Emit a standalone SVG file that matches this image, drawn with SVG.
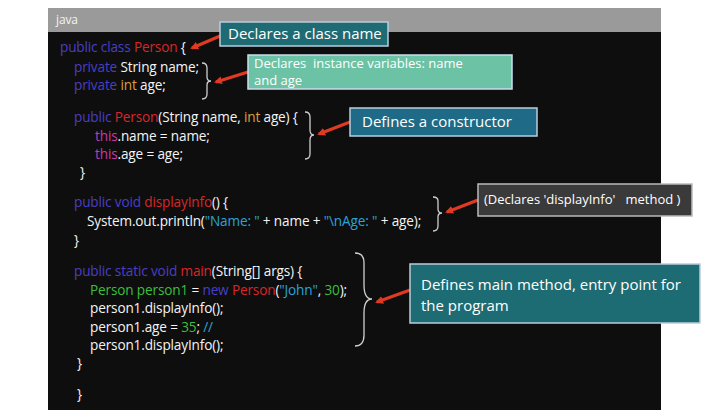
<svg xmlns="http://www.w3.org/2000/svg" width="711" height="418" viewBox="0 0 711 418">
<defs>
<style>
.c{font-family:"Open Sans","Liberation Sans",sans-serif;font-size:13.6px;fill:#f4f4f4;letter-spacing:-0.15px}
.k{fill:#4a3fc4}.r{fill:#d8262b}.o{fill:#d9a040}.m{fill:#c93aa8}.s{fill:#2aa3d6}.g{fill:#3cbf3c}
.lbl{font-family:"Open Sans","Liberation Sans",sans-serif;font-size:14px;fill:#fff}
.br{fill:none;stroke:#cfcfcf;stroke-width:1.3}
.ar{stroke:#e03a22;stroke-width:3;fill:none}
</style>
<marker id="ah" markerWidth="8" markerHeight="8" refX="6" refY="4" orient="auto" markerUnits="userSpaceOnUse"><path d="M0,0 L8,4 L0,8 Z" fill="#e03a22"/></marker>
</defs>
<rect width="711" height="418" fill="#fff"/>
<g id="panel">
<rect x="48" y="8" width="613" height="402" fill="#0e0e0e"/>
<rect x="48" y="8" width="613" height="24" fill="#9a9a9a"/>
<text x="56" y="24" class="c" style="font-size:12px">java</text>
</g>
<g id="code" class="c">
<text x="60" y="52"><tspan class="k">public class </tspan><tspan class="r">Person</tspan> {</text>
<text x="74" y="72"><tspan class="k">private</tspan> String name;</text>
<text x="74" y="90"><tspan class="k">private</tspan> <tspan class="o">int</tspan> age;</text>
<text x="74" y="122"><tspan class="k">public</tspan> <tspan class="r">Person</tspan>(String name, <tspan class="o">int</tspan> age) {</text>
<text x="95" y="141"><tspan class="m">this</tspan>.name = name;</text>
<text x="95" y="159"><tspan class="m">this</tspan>.age = age;</text>
<text x="80" y="177">}</text>
<text x="74" y="207"><tspan class="k">public void</tspan> <tspan class="r">displayInfo</tspan>() {</text>
<text x="87" y="226">System.out.println(<tspan class="s">"Name: "</tspan> + name + <tspan class="s">"\nAge: "</tspan> + age);</text>
<text x="74" y="245">}</text>
<text x="74" y="276"><tspan class="k">public static void</tspan> <tspan class="r">main</tspan>(String[] args) {</text>
<text x="90" y="295"><tspan class="g">Person person1</tspan> = <tspan class="k">new</tspan> <tspan class="r">Person</tspan>(<tspan class="s">"John"</tspan>, <tspan class="g">30</tspan>);</text>
<text x="90" y="313">person1.displayInfo();</text>
<text x="90" y="332">person1.age = <tspan class="g">35</tspan>; <tspan class="s">//</tspan></text>
<text x="90" y="350">person1.displayInfo();</text>
<text x="77" y="368">}</text>
<text x="77" y="399">}</text>
</g>
<g id="braces">
<path class="br" d="M202,63 q5,0 5,5 v9 q0,4 4,4 q-4,0 -4,4 v9 q0,5 -5,5"/>
<path class="br" d="M305,112 q5,0 5,5 v13 q0,5 4,5 q-4,0 -4,5 v14 q0,5 -5,5"/>
<path class="br" d="M433,197 q5,0 5,4 v8 q0,4 4,4 q-4,0 -4,4 v9 q0,5 -5,5"/>
<path class="br" d="M355,253 q9,0 9,10 v22 q0,14 8,14 q-8,0 -8,14 v22 q0,11 -9,11"/>
</g>
<g id="connectors">
<line class="ar" x1="220" y1="36" x2="192" y2="48" marker-end="url(#ah)"/>
<line class="ar" x1="248" y1="72" x2="216" y2="82" marker-end="url(#ah)"/>
<line class="ar" x1="350" y1="122" x2="319" y2="134" marker-end="url(#ah)"/>
<line class="ar" x1="478" y1="200" x2="447" y2="212" marker-end="url(#ah)"/>
<line class="ar" x1="410" y1="290" x2="377" y2="302" marker-end="url(#ah)"/>
</g>
<g id="n1"><rect x="220" y="22" width="168" height="24" fill="#1e6b74" stroke="#bcd" stroke-width="1.5"/><text x="228" y="39" class="lbl" style="font-size:15px">Declares a class name</text></g>
<g id="n2"><rect x="248" y="55" width="264" height="34" fill="#6cc2a5" stroke="#cde" stroke-width="1.5"/><text x="254" y="68" class="lbl" style="font-size:13px" xml:space="preserve">Declares  instance variables: name</text><text x="254" y="85" class="lbl" style="font-size:13px">and age</text></g>
<g id="n3"><rect x="350" y="108" width="187" height="28" fill="#1f6a86" stroke="#bcd" stroke-width="1.5"/><text x="362" y="127" class="lbl" style="font-size:15px">Defines a constructor</text></g>
<g id="n4"><rect x="478" y="184" width="214" height="32" fill="#3a3a3a" stroke="#bbb" stroke-width="1.5"/><text x="484" y="204" class="lbl" style="font-size:13px" xml:space="preserve">(Declares 'displayInfo'   method )</text></g>
<g id="n5"><rect x="410" y="264" width="290" height="59" fill="#1d6b73" stroke="#bcd" stroke-width="1.5"/><text class="lbl" style="font-size:15px"><tspan x="421" y="290">Defines main method, entry point for</tspan><tspan x="421" y="311">the program</tspan></text></g>
</svg>
